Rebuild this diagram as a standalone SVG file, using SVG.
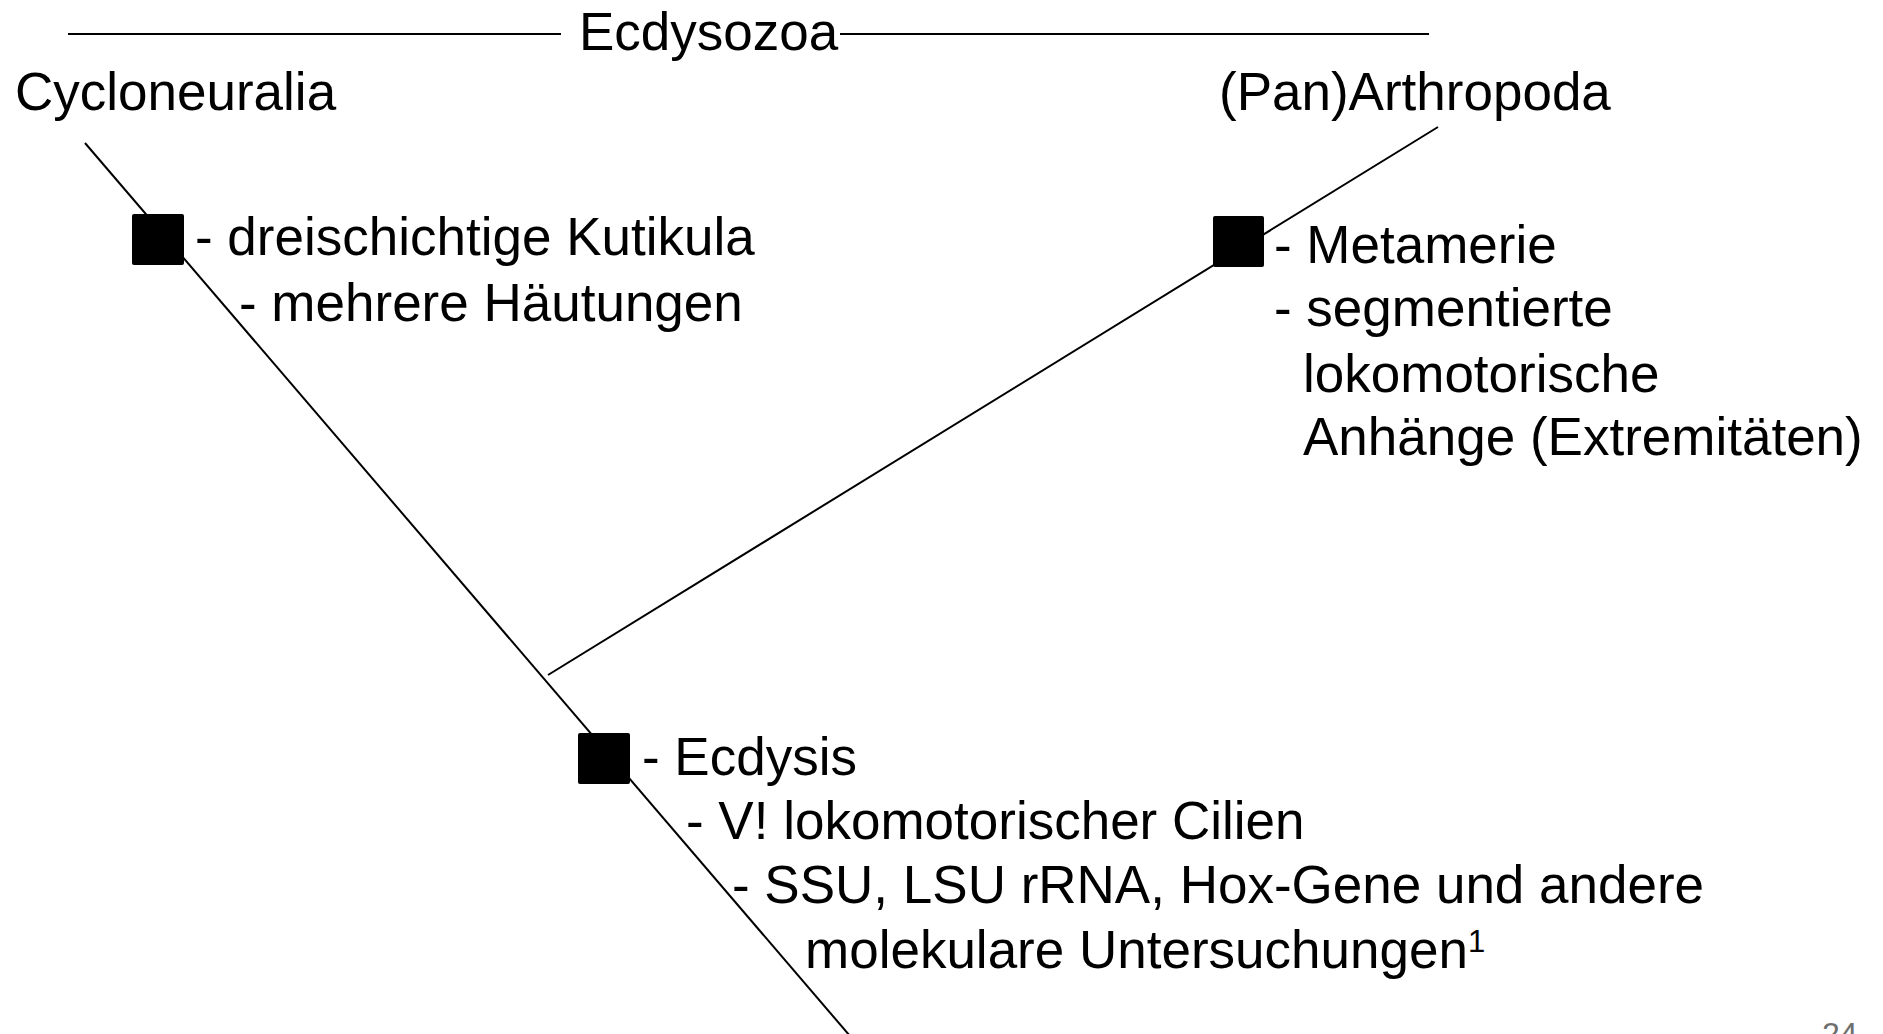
<svg xmlns="http://www.w3.org/2000/svg" width="1883" height="1034" viewBox="0 0 1883 1034">
  <style>
    .t { font-family: "Liberation Sans", Arial, sans-serif; font-size: 53px; fill: #000; }
    .edge { stroke: #000; stroke-width: 2; fill: none; }
    .mark { fill: #000; }
    .pg { font-family: "Liberation Sans", Arial, sans-serif; font-size: 32px; fill: #6e6e6e; }
  </style>
  <rect width="1883" height="1034" fill="#fff"/>

  <!-- tree branches -->
  <g id="connectors">
    <line class="edge" x1="68" y1="34" x2="561" y2="34"/>
    <line class="edge" x1="840" y1="34" x2="1429" y2="34"/>
    <line class="edge" x1="85" y1="143" x2="850" y2="1036"/>
    <line class="edge" x1="548" y1="675" x2="1438" y2="127"/>
  </g>

  <g id="ecdysozoa">
    <text class="t" x="579" y="50">Ecdysozoa</text>
  </g>

  <g id="cycloneuralia">
    <text class="t" x="15" y="110">Cycloneuralia</text>
  </g>

  <g id="panarthropoda">
    <text class="t" x="1219" y="110">(Pan)Arthropoda</text>
  </g>

  <!-- apomorphy boxes with character lists -->
  <g id="node-cycloneuralia">
    <rect class="mark" x="132" y="214" width="52" height="51" rx="2"/>
    <text class="t" x="195" y="255">- dreischichtige Kutikula</text>
    <text class="t" x="239" y="321">- mehrere Häutungen</text>
  </g>

  <g id="node-arthropoda">
    <rect class="mark" x="1213" y="216" width="51" height="51" rx="2"/>
    <text class="t" x="1274" y="263">- Metamerie</text>
    <text class="t" x="1274" y="326">- segmentierte</text>
    <text class="t" x="1303" y="392">lokomotorische</text>
    <text class="t" x="1303" y="455">Anhänge (Extremitäten)</text>
  </g>

  <g id="node-ecdysozoa">
    <rect class="mark" x="578" y="733" width="52" height="51" rx="2"/>
    <text class="t" x="642" y="775">- Ecdysis</text>
    <text class="t" x="686" y="839">- V! lokomotorischer Cilien</text>
    <text class="t" x="732" y="903">- SSU, LSU rRNA, Hox-Gene und andere</text>
    <text class="t" x="805" y="968">molekulare Untersuchungen<tspan font-size="31" dy="-16">1</tspan></text>
  </g>

  <!-- slide number, partly below the bottom edge -->
  <g id="page-number">
    <text class="pg" x="1822" y="1045">24</text>
  </g>
</svg>
